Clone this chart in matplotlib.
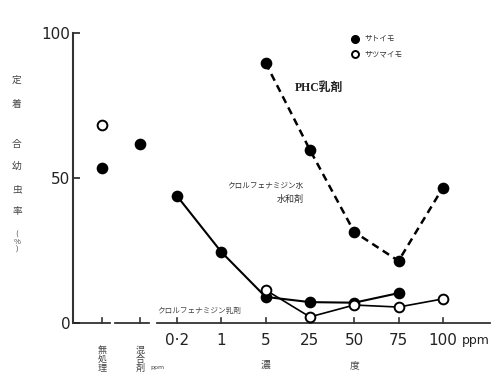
import matplotlib
matplotlib.use("Agg")
import matplotlib.pyplot as plt

JP = ['Noto Sans CJK JP', 'DejaVu Sans']
plt.rcParams['font.family'] = JP

# categories (index positions on the broken x axis)
ctrl_labels = ["無処理", "混合剤"]
ctrl_x = [-1.69, -0.84]
conc_labels = ["0·2", "1", "5", "25", "50", "75", "100"]
conc_x = [0, 1, 2, 3, 4, 5, 6]

# control points
ctrl_satoimo = [53.4, 61.7]      # filled
ctrl_satsumaimo = [68.3]         # open (untreated only)

# クロルフェナミジン水和剤 (サトイモ, filled, solid)
wp_x = [0, 1, 2, 3, 4, 5]
wp_vals = [43.8, 24.5, 9.0, 7.2, 7.0, 10.3]

# クロルフェナミジン乳剤 (サツマイモ, open, solid)
ec_x = [2, 3, 4, 5, 6]
ec_vals = [11.4, 2.1, 6.2, 5.5, 8.3]

# PHC乳剤 (サトイモ, filled, dashed)
phc_x = [2, 3, 4, 5, 6]
phc_vals = [89.7, 59.7, 31.4, 21.4, 46.6]

W, H = 498, 372
fig = plt.figure(figsize=(W / 100, H / 100), dpi=100)
px0, px1 = 73, 495
py0, py1 = 323, 33
ax = fig.add_axes([px0 / W, (H - py0) / H, (px1 - px0) / W, (py0 - py1) / H])
xpx = lambda p: (p - 177) / 44.3
ax.set_xlim(xpx(px0), xpx(px1))
ax.set_ylim(0, 100)
for s in ["top", "right", "bottom"]:
    ax.spines[s].set_visible(False)
ax.spines["left"].set_linewidth(1.5)
ax.spines["left"].set_color("#333333")
ax.set_yticks([0, 50, 100])
ax.set_yticklabels(["0", "50", "100"], fontsize=11, family="DejaVu Sans")
ax.tick_params(axis="y", direction="in", length=5, width=1.2, pad=2, colors="#222222")
ax.set_xticks([])

# broken x axis
segs = [(xpx(73), xpx(110)), (xpx(115), xpx(149)), (xpx(157), xpx(490))]
for a, b in segs:
    ax.plot([a, b], [0, 0], color="#333333", lw=1.3, clip_on=False, zorder=1)
for x in ctrl_x + conc_x:
    ax.plot([x, x], [0, 1.6], color="#333333", lw=1.2, clip_on=False, zorder=1)

mk = dict(markersize=7, markeredgewidth=1.4, markeredgecolor="black", clip_on=False)
# lines
ax.plot(wp_x, wp_vals, color="black", lw=1.5, marker="o", markerfacecolor="black", zorder=3, **mk)
ax.plot(ec_x, ec_vals, color="black", lw=1.2, marker="o", markerfacecolor="white", zorder=4, **mk)
ax.plot(phc_x, phc_vals, color="black", lw=1.8, ls=(0, (3, 2)), marker="o", markerfacecolor="black", zorder=3, **mk)
# control points
ax.plot(ctrl_x, ctrl_satoimo, ls="none", marker="o", markerfacecolor="black", zorder=3, **mk)
ax.plot(ctrl_x[:1], ctrl_satsumaimo, ls="none", marker="o", markerfacecolor="white", zorder=3, **mk)

# x tick labels
for x, lab in zip(conc_x, conc_labels):
    ax.text(x, -6.2, lab, ha="center", va="center", fontsize=11, family="DejaVu Sans", color="#222222")
ax.text(6.42, -6.2, "ppm", ha="left", va="center", fontsize=9, family="DejaVu Sans", color="#222222")
for x, lab in zip(ctrl_x, ctrl_labels):
    ax.text(x, -7.8, "\n".join(lab), ha="center", va="top", fontsize=6.5, linespacing=1.0, color="#444444")
ax.text(xpx(150), -15.5, "ppm", ha="left", va="center", fontsize=4.5, family="DejaVu Sans", color="#444444")
ax.text(2, -14.5, "濃", ha="center", va="center", fontsize=7, color="#444444")
ax.text(4, -14.5, "度", ha="center", va="center", fontsize=7, color="#444444")

# y label (vertical characters)
ylab_chars = [("定", 80), ("着", 104), ("合", 144), ("幼", 166), ("虫", 189), ("率", 211), ("(%)", 242)]
for ch, ypix in ylab_chars:
    if ch == "(%)":
        fig.text(17 / W, 1 - ypix / H, "(\n%\n)", ha="center", va="center", fontsize=5.5, linespacing=0.9, color="#444444")
    else:
        fig.text(17 / W, 1 - ypix / H, ch, ha="center", va="center", fontsize=7, color="#444444")

# annotations
ax.text(xpx(295), (323 - 88) / 2.9, "PHC乳剤", ha="left", va="center", fontsize=8.5,
        family=["Liberation Serif", "Noto Sans CJK JP"], fontweight="bold", color="#222222")
ax.text(xpx(304), (323 - 186) / 2.9, "クロルフェナミジン水", ha="right", va="center", fontsize=5.5, color="#333333")
ax.text(xpx(304), (323 - 199) / 2.9, "水和剤", ha="right", va="center", fontsize=6.5, color="#333333")
ax.text(xpx(157), (323 - 311) / 2.9, "クロルフェナミジン乳剤", ha="left", va="center", fontsize=5.5, color="#444444")

# legend
ax.plot([xpx(355)], [(323 - 39) / 2.9], ls="none", marker="o", markersize=5.5, markerfacecolor="black", markeredgecolor="black")
ax.plot([xpx(355)], [(323 - 54) / 2.9], ls="none", marker="o", markersize=5, markerfacecolor="white", markeredgecolor="black", markeredgewidth=1.4)
ax.text(xpx(364), (323 - 39) / 2.9, "サトイモ", ha="left", va="center", fontsize=5.5, color="#333333")
ax.text(xpx(364), (323 - 54) / 2.9, "サツマイモ", ha="left", va="center", fontsize=5.5, color="#333333")

fig.savefig("out.png", dpi=100)
